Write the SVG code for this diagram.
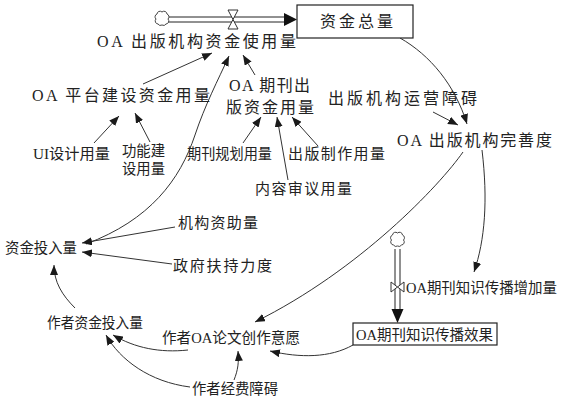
<svg xmlns="http://www.w3.org/2000/svg" width="563" height="405" viewBox="0 0 563 405">
<defs>
<style>
text{font-family:"Liberation Serif","Noto Sans CJK SC",serif;fill:#222;font-size:15px;}
.big{font-size:16px;}
.ln{fill:none;stroke:#333;stroke-width:1;}
.pipe{fill:none;stroke:#222;stroke-width:1;}
.box{fill:#fff;stroke:#222;stroke-width:1.2;}
.cloud{fill:#fff;stroke:#444;stroke-width:1;}
.valve{fill:#fff;stroke:#333;stroke-width:1;}
</style>
<marker id="ah" viewBox="0 0 10 8" refX="10" refY="4" markerWidth="10" markerHeight="8" markerUnits="userSpaceOnUse" orient="auto">
<path d="M0,0 L10,4 L0,8 z" fill="#1a1a1a"/>
</marker>
<path id="cl" d="M-4,5 a3,3 0 0 1 -2,-5 a3,3 0 0 1 1,-5 a3,3 0 0 1 5,-2 a3,3 0 0 1 5,2 a3,3 0 0 1 1,5 a3,3 0 0 1 -2,5 a3,3 0 0 1 -4,1 a3,3 0 0 1 -4,-1 z"/>
</defs>
<rect width="563" height="405" fill="#fff"/>

<g id="connectors">
<!-- top stock flow pipe -->
<line class="pipe" x1="168" y1="17" x2="286" y2="17"/>
<line class="pipe" x1="168" y1="22" x2="286" y2="22"/>
<path d="M284,13 L297,19.5 L284,26 z" fill="#111"/>
<!-- vertical stock flow pipe -->
<line class="pipe" x1="395" y1="249" x2="395" y2="312"/>
<line class="pipe" x1="400" y1="249" x2="400" y2="312"/>
<path d="M391.5,309 L397.5,323 L403.5,309 z" fill="#111"/>

<path class="ln" d="M143,84 L212,53" marker-end="url(#ah)"/>
<path class="ln" d="M86,244 C150,220 180,180 195,135 C205,105 218,80 229,56" marker-end="url(#ah)"/>
<path class="ln" d="M255,75 L243,55" marker-end="url(#ah)"/>
<path class="ln" d="M94,143 L119,116" marker-end="url(#ah)"/>
<path class="ln" d="M150,142 L135,113" marker-end="url(#ah)"/>
<path class="ln" d="M243,143 L261,117" marker-end="url(#ah)"/>
<path class="ln" d="M288,180 L277,117" marker-end="url(#ah)"/>
<path class="ln" d="M318,146 L292,117" marker-end="url(#ah)"/>
<path class="ln" d="M400,38 C430,55 455,85 467,124" marker-end="url(#ah)"/>
<path class="ln" d="M433,112 L458,125" marker-end="url(#ah)"/>
<path class="ln" d="M463,152 C440,185 360,270 255,322" marker-end="url(#ah)"/>
<path class="ln" d="M482,150 C488,200 485,240 474,272" marker-end="url(#ah)"/>
<path class="ln" d="M353,345 C330,358 300,358 270,351" marker-end="url(#ah)"/>
<path class="ln" d="M188,350 C160,353 135,348 113,335" marker-end="url(#ah)"/>
<path class="ln" d="M190,387 C150,382 120,360 106,335" marker-end="url(#ah)"/>
<path class="ln" d="M234,380 C238,370 239,362 238,351" marker-end="url(#ah)"/>
<path class="ln" d="M75,308 C62,295 54,282 54,265" marker-end="url(#ah)"/>
<path class="ln" d="M175,227 L82,243" marker-end="url(#ah)"/>
<path class="ln" d="M172,264 L82,252" marker-end="url(#ah)"/>
</g>

<g id="source1"><use href="#cl" class="cloud" transform="translate(162,19)"/></g>
<g id="valve1">
<path class="valve" d="M228,10 L238,10 L233,19.5 z M233,19.5 L228,29 L238,29 z"/>
</g>

<g id="n-total">
<rect class="box" x="297" y="5" width="116" height="33"/>
<text class="big" x="320" y="27" textLength="73" lengthAdjust="spacing">资金总量</text>
</g>

<g id="n-use"><text class="big" x="97" y="47" textLength="199" lengthAdjust="spacing">OA 出版机构资金使用量</text></g>
<g id="n-platform"><text class="big" x="32" y="101" textLength="178" lengthAdjust="spacing">OA 平台建设资金用量</text></g>
<g id="n-journal">
<text class="big" x="229" y="91" textLength="81" lengthAdjust="spacing">OA 期刊出</text>
<text class="big" x="226" y="113" textLength="88" lengthAdjust="spacing">版资金用量</text>
</g>
<g id="n-obstacle"><text class="big" x="328" y="104" textLength="149" lengthAdjust="spacing">出版机构运营障碍</text></g>
<g id="n-perfect"><text class="big" x="397" y="146" textLength="155" lengthAdjust="spacing">OA 出版机构完善度</text></g>
<g id="n-ui"><text x="33" y="159" textLength="77" lengthAdjust="spacingAndGlyphs">UI设计用量</text></g>
<g id="n-func">
<text x="122" y="156" textLength="43" lengthAdjust="spacingAndGlyphs">功能建</text>
<text x="122" y="174" textLength="43" lengthAdjust="spacingAndGlyphs">设用量</text>
</g>
<g id="n-plan"><text x="187" y="159" textLength="85" lengthAdjust="spacingAndGlyphs">期刊规划用量</text></g>
<g id="n-make"><text x="288" y="159" textLength="97" lengthAdjust="spacing">出版制作用量</text></g>
<g id="n-review"><text x="255" y="194" textLength="97" lengthAdjust="spacing">内容审议用量</text></g>
<g id="n-inst"><text x="178" y="228" textLength="80" lengthAdjust="spacing">机构资助量</text></g>
<g id="n-invest"><text x="5" y="253" textLength="72" lengthAdjust="spacingAndGlyphs">资金投入量</text></g>
<g id="n-gov"><text x="173" y="271" textLength="99" lengthAdjust="spacing">政府扶持力度</text></g>

<g id="source2"><use href="#cl" class="cloud" transform="translate(397.5,240)"/></g>
<g id="n-increase">
<path class="valve" d="M391,282 L391,292 L397.5,287 z M404,282 L404,292 L397.5,287 z"/>
<text x="406" y="293" textLength="151" lengthAdjust="spacingAndGlyphs">OA期刊知识传播增加量</text>
</g>
<g id="n-effect">
<rect class="box" x="353" y="323" width="144" height="22"/>
<text x="356" y="340" textLength="137" lengthAdjust="spacingAndGlyphs">OA期刊知识传播效果</text>
</g>
<g id="n-author-invest"><text x="47" y="328" textLength="96" lengthAdjust="spacingAndGlyphs">作者资金投入量</text></g>
<g id="n-willing"><text x="162" y="343" textLength="138" lengthAdjust="spacingAndGlyphs">作者OA论文创作意愿</text></g>
<g id="n-fee"><text x="192" y="394" textLength="86" lengthAdjust="spacingAndGlyphs">作者经费障碍</text></g>
</svg>
